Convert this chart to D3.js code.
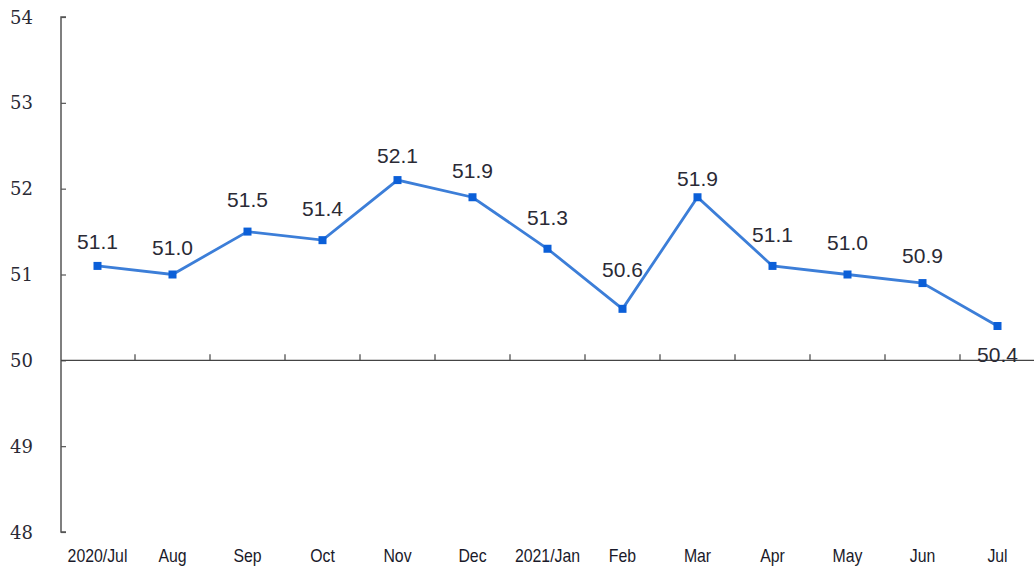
<!DOCTYPE html>
<html><head><meta charset="utf-8">
<script src="https://cdn.jsdelivr.net/npm/d3@7"></script>
<style>body{margin:0;background:#fff}</style>
</head><body>
<svg id="c" width="1034" height="571"></svg>
<script>
const categories = ["2020/Jul","Aug","Sep","Oct","Nov","Dec","2021/Jan","Feb","Mar","Apr","May","Jun","Jul"];
const values = [51.1,51.0,51.5,51.4,52.1,51.9,51.3,50.6,51.9,51.1,51.0,50.9,50.4];
const yTicks = [48,49,50,51,52,53,54];
// vertical offset of each value label's centre from its point (label placement, px)
const labelShift = [-24,-27,-32,-32,-25,-27,-31,-39,-19,-31,-32,-28,28];

const svg = d3.select("#c");
const x = d3.scaleBand().domain(categories).range([60,1035]);
const y = d3.scaleLinear().domain([48,54]).range([532,17]);
const cx = d => x(d) + x.bandwidth()/2;

// y axis
const yAxis = d3.axisLeft(y).tickValues(yTicks).tickSize(-5).tickPadding(0).tickFormat(d3.format("d"));
const ga = svg.append("g").attr("transform","translate(61,0)").call(yAxis);
ga.attr("font-family","DejaVu Serif, serif");
ga.select(".domain").attr("stroke","#555").attr("stroke-width",1.5).attr("d","M5,"+y(54)+"H0V"+y(48)+"H5");
ga.selectAll(".tick line").attr("stroke","#555").attr("stroke-width",1.2);
ga.selectAll(".tick text").attr("x",-28).attr("dy","0.34em")
  .style("font-family","DejaVu Serif, serif").style("font-size","18px").attr("fill","#2a2a35");

// baseline at 50 with category ticks
const gx = svg.append("g").attr("transform","translate(0,"+y(50)+")");
gx.append("line").attr("x1",61).attr("x2",1034).attr("y1",0).attr("y2",0).attr("stroke","#444").attr("stroke-width",1.3);
gx.selectAll("line.t").data(categories.slice(1)).join("line").attr("class","t")
  .attr("x1",d=>x(d)).attr("x2",d=>x(d)).attr("y1",0).attr("y2",-6).attr("stroke","#444").attr("stroke-width",1.2);

// x labels
svg.append("g").selectAll("text").data(categories).join("text")
  .attr("transform",d=>"translate("+cx(d)+",562) scale(0.88,1)")
  .attr("text-anchor","middle")
  .attr("font-family","'Liberation Sans',Arial,sans-serif")
  .attr("font-size",18).attr("fill","#1a1a2a").text(d=>d);

// line
const data = categories.map((c,i)=>({c,v:values[i],s:labelShift[i]}));
const line = d3.line().x(d=>cx(d.c)).y(d=>y(d.v));
svg.append("path").datum(data).attr("d",line).attr("fill","none").attr("stroke","#3c7ed8").attr("stroke-width",2.8);
svg.append("g").selectAll("rect").data(data).join("rect")
  .attr("x",d=>cx(d.c)-4).attr("y",d=>y(d.v)-4).attr("width",8).attr("height",8).attr("fill","#0b5fd8");

// value labels
svg.append("g").selectAll("text").data(data).join("text")
  .attr("x",d=>cx(d.c))
  .attr("y",d=>y(d.v)+d.s).attr("dy","0.36em")
  .attr("text-anchor","middle")
  .attr("font-family","'Liberation Sans',Arial,sans-serif").attr("font-size",21).attr("fill","#2a2a35")
  .text(d=>d.v.toFixed(1));
</script>
</body></html>
